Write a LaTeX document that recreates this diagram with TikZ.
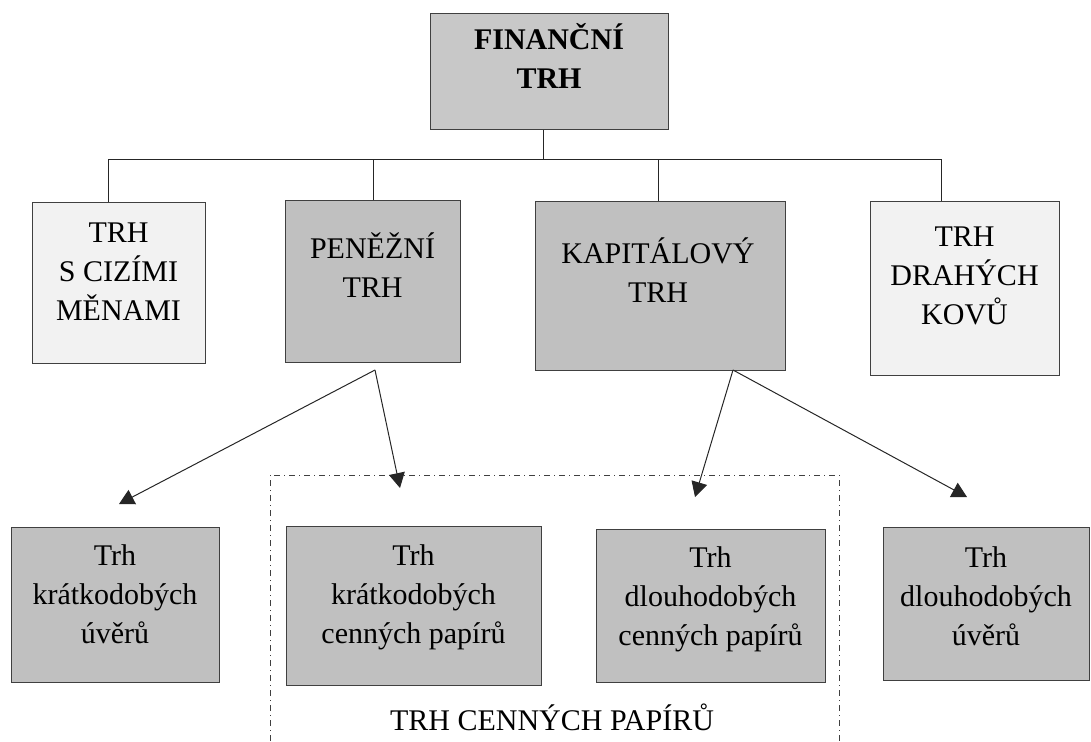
\documentclass[tikz,border=0pt]{standalone}
\usepackage{fontspec}
\setmainfont{Liberation Serif}
\usetikzlibrary{arrows.meta}
\definecolor{boxdark}{HTML}{C0C0C0}
\definecolor{boxtop}{HTML}{C8C8C8}
\definecolor{boxlight}{HTML}{F2F2F2}
\definecolor{edge}{HTML}{404040}
\tikzset{
  boxshape/.style={draw=edge, line width=0.7pt, inner sep=0pt, anchor=north west, rectangle},
  lbl/.style={anchor=base, align=center, inner sep=0pt, font=\fontsize{15}{19.5}\selectfont},
  conn/.style={draw=black!85, line width=0.5pt},
  arr/.style={conn, -{Triangle[length=7.5pt,width=8pt]}},
  groupline/.style={draw=black!75, line width=0.5pt, dash dot}
}
\begin{document}
\begin{tikzpicture}[x=0.5pt,y=-0.5pt]
\useasboundingbox (0,0) rectangle (1091,741);
% top
\node[boxshape, fill=boxtop, minimum width=119pt, minimum height=58pt] (fin) at (430,13) {};
\node[lbl, font=\fontsize{15}{19.5}\selectfont\bfseries] (fint) at (549,88) {FINANČNÍ\\TRH};
% level 2
\node[boxshape, fill=boxlight, minimum width=86.5pt, minimum height=80.5pt] (ciz) at (32,202) {};
\node[lbl] (cizt) at (118.5,320.5) {TRH\\S CIZÍMI\\MĚNAMI};
\node[boxshape, fill=boxdark, minimum width=87.5pt, minimum height=81pt] (pen) at (285,200) {};
\node[lbl] (pent) at (372.5,297) {PENĚŽNÍ\\TRH};
\node[boxshape, fill=boxdark, minimum width=125pt, minimum height=84.5pt] (kap) at (535,201) {};
\node[lbl] (kapt) at (658,302) {KAPITÁLOVÝ\\TRH};
\node[boxshape, fill=boxlight, minimum width=94.5pt, minimum height=87pt] (dra) at (870,201) {};
\node[lbl] (drat) at (964.5,324) {TRH\\DRAHÝCH\\KOVŮ};
% level 3
\node[boxshape, fill=boxdark, minimum width=104pt, minimum height=77.5pt] (kuv) at (11,527) {};
\node[lbl] (kuvt) at (115,643.5) {Trh\\krátkodobých\\úvěrů};
\node[boxshape, fill=boxdark, minimum width=127.5pt, minimum height=79.5pt] (kcp) at (286,526) {};
\node[lbl] (kcpt) at (413.5,643.5) {Trh\\krátkodobých\\cenných papírů};
\node[boxshape, fill=boxdark, minimum width=114.5pt, minimum height=76.5pt] (dcp) at (596,529) {};
\node[lbl] (dcpt) at (710.5,645) {Trh\\dlouhodobých\\cenných papírů};
\node[boxshape, fill=boxdark, minimum width=103pt, minimum height=76.5pt] (duv) at (883,527) {};
\node[lbl] (duvt) at (986,645) {Trh\\dlouhodobých\\úvěrů};
% group
\node[lbl] (grp) at (552,730) {TRH CENNÝCH PAPÍRŮ};
\draw[groupline] (270,741) -- (270,475) -- (839,475) -- (839,741);
% tree connectors
\coordinate (busL) at (108.8,159);
\coordinate (busR) at (941,159);
\coordinate (finout) at ([xshift=-3pt]fin.south);
\draw[conn] (finout) -- (finout |- busL);
\draw[conn] (busL) -- (busR);
\draw[conn] (busL) -- (busL |- ciz.north);
\draw[conn] (pen.north |- busL) -- (pen.north);
\coordinate (kapin) at ([xshift=-1pt]kap.north);
\draw[conn] (kapin |- busL) -- (kapin);
\draw[conn] (busR) -- (busR |- dra.north);
% arrows
\coordinate (penout) at (375,370);
\coordinate (kapout) at (733,370);
\coordinate (tipkuv) at (119,504);
\coordinate (tipkcp) at (400,488);
\coordinate (tipdcp) at (695,497);
\coordinate (tipduv) at (967,497);
\draw[arr] (penout) -- (tipkuv);
\draw[arr] (penout) -- (tipkcp);
\draw[arr] (kapout) -- (tipdcp);
\draw[arr] (kapout) -- (tipduv);
\end{tikzpicture}
\end{document}
